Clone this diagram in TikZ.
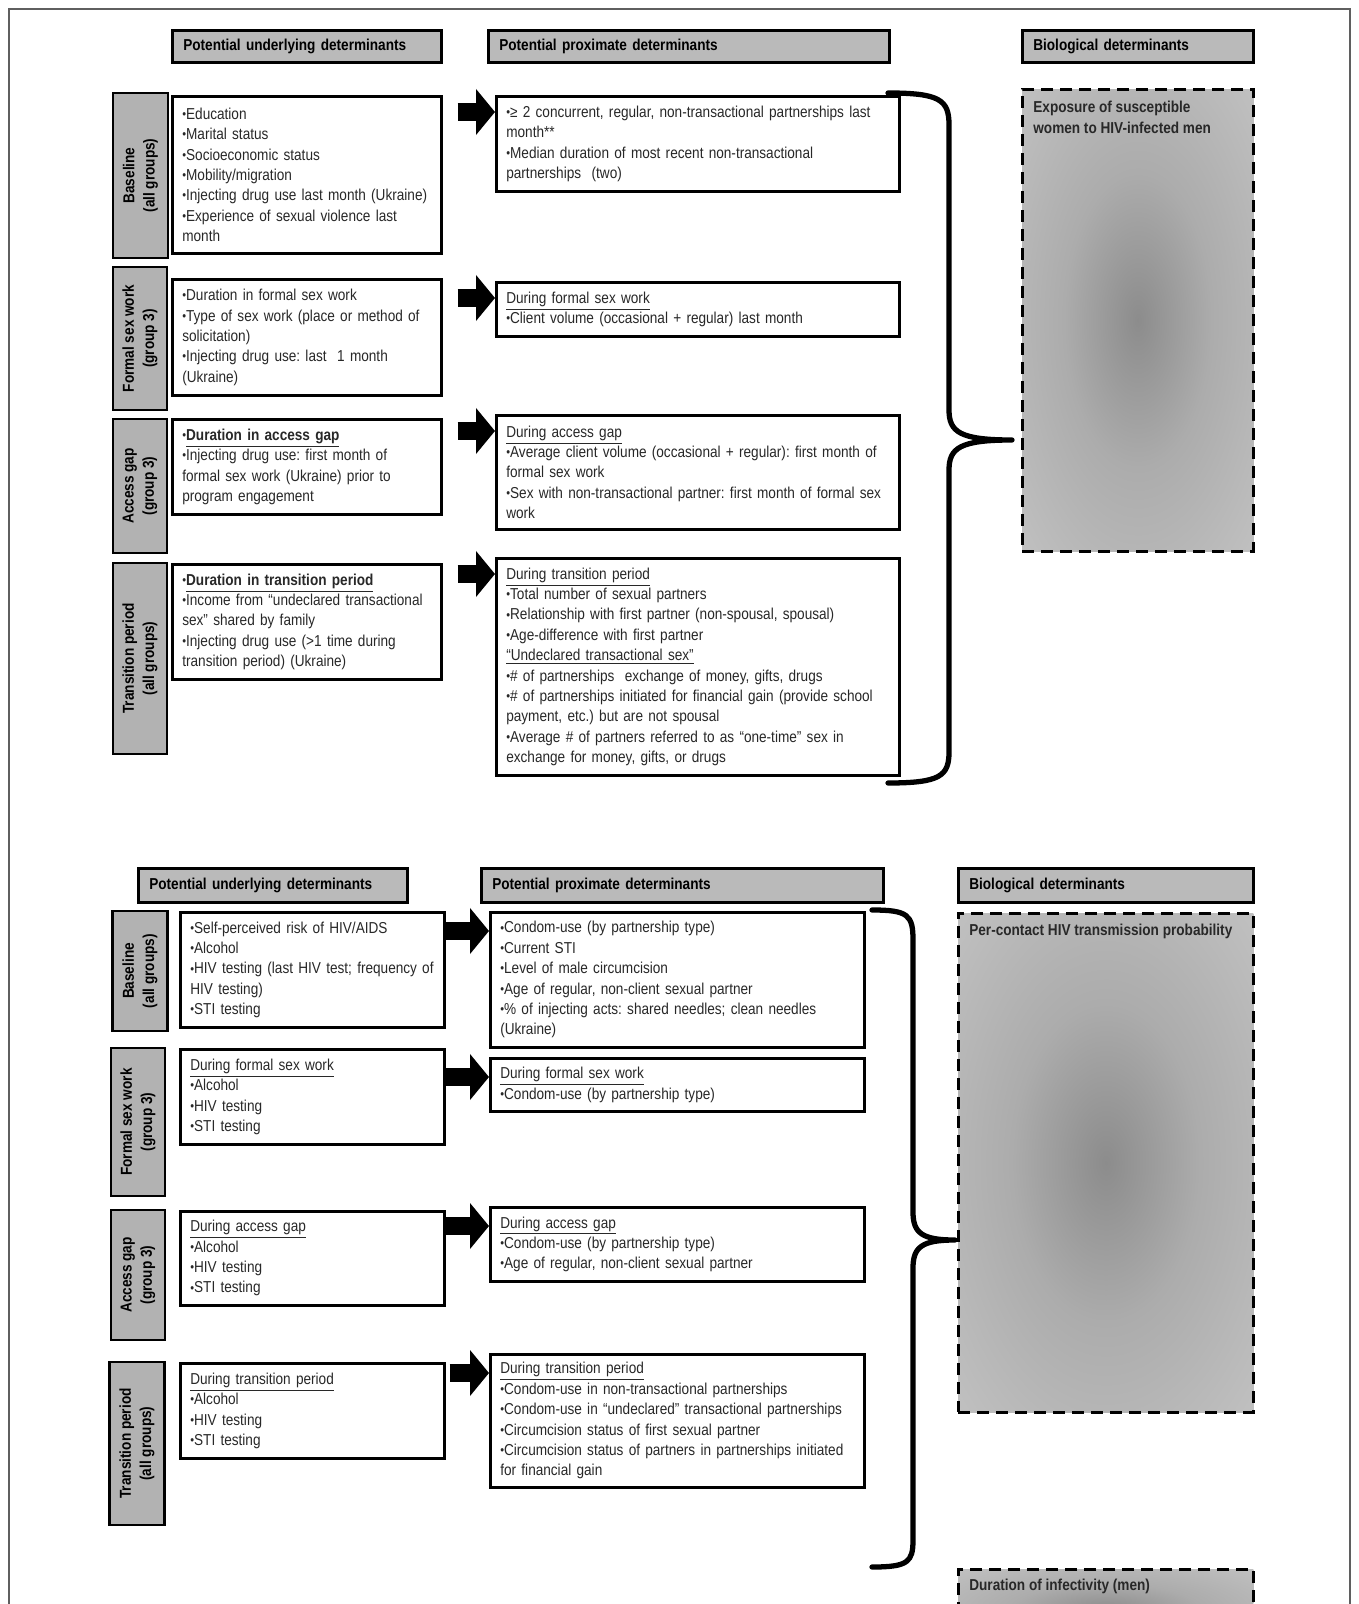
\documentclass[tikz,border=0pt]{standalone}
\usepackage{fontspec}
\setmainfont{Liberation Sans}[FakeStretch=0.86]
\usetikzlibrary{arrows.meta,positioning,calc}

\definecolor{headgray}{RGB}{186,186,186}
\definecolor{labgray}{RGB}{178,178,178}
\definecolor{framegray}{RGB}{95,95,95}
\definecolor{inkgray}{RGB}{40,40,40}
\definecolor{shadedark}{RGB}{140,140,140}
\definecolor{shademid}{RGB}{172,172,172}
\definecolor{shadelight}{RGB}{202,202,202}
\definecolor{shadeedge}{RGB}{210,210,210}
\pgfdeclareradialshading{bioshade}{\pgfpoint{0bp}{0bp}}{color(0bp)=(shadedark); color(16bp)=(shademid); color(45bp)=(shadelight); color(72bp)=(shadeedge)}

\newcommand{\diagfont}{\fontsize{9}{11.6}\selectfont\frenchspacing}
\newcommand{\bul}{\raisebox{0.1ex}{\scalebox{0.8}{\textbullet}}}

\begin{document}
\begin{tikzpicture}[
    x=0.02cm, y=-0.02cm,
    font=\diagfont,
    heading/.style={
        draw, line width=1.5pt, fill=headgray, anchor=north west,
        align=left, font=\diagfont\bfseries, inner xsep=0.22cm,
        text width=#1, minimum height=0.64cm
    },
    rowtag/.style={
        draw, line width=1.5pt, fill=labgray, rotate=90,
        align=center, font=\diagfont\bfseries, inner sep=0pt
    },
    factor/.style={
        draw, line width=1.5pt, fill=white, anchor=north west,
        align=left, text=inkgray, inner xsep=0.2cm, inner ysep=0.08cm,
        text width=#1
    },
    biobox/.style={
        draw, line width=1.5pt, dash pattern=on 0.24cm off 0.14cm,
        shade, shading=bioshade, anchor=north west
    },
    biotext/.style={font=\diagfont\bfseries, text=inkgray, align=left, inner sep=0pt},
    bigarrow/.style={line width=0.36cm, -{Triangle[length=0.38cm, width=0.9cm]}},
    bracket/.style={line width=3pt, line join=round, line cap=round}
]
\useasboundingbox (0,0) rectangle (1358,1604);
\clip (0,0) rectangle (1358,1604);
\draw[framegray, line width=1.2pt] (9,9) rectangle (1350,1700);

% Top panel: headings
\node[heading=4.94cm] (hu1) at (171,29) {Potential underlying determinants};
\node[heading=7.58cm] (hp1) at (487,29) {Potential proximate determinants};
\node[heading=4.18cm] (hb1) at (1021,29) {Biological determinants};

% Top panel: rows
\node[rowtag, minimum width=3.30cm, minimum height=1.10cm] (tag1) at (140.5,175.5) {Baseline\\(all groups)};
\node[factor=4.98cm, minimum height=3.14cm] (u1) at (171,95)
    {\bul Education\\\bul Marital status\\\bul Socioeconomic status\\\bul Mobility/migration\\\bul Injecting drug use last month (Ukraine)\\\bul Experience of sexual violence last\\month};
\node[factor=7.66cm, minimum height=1.90cm] (p1) at (495,95)
    {\bul{}≥ 2 concurrent, regular, non-transactional partnerships last\\month**\\\bul Median duration of most recent non-transactional\\partnerships~~(two)};

\node[rowtag, minimum width=2.86cm, minimum height=1.08cm] (tag2) at (140,338.5) {Formal sex work\\(group 3)};
\node[factor=4.98cm, minimum height=2.32cm] (u2) at (171,278)
    {\bul Duration in formal sex work\\\bul Type of sex work (place or method of\\solicitation)\\\bul Injecting drug use: last~~1 month\\(Ukraine)};
\node[factor=7.66cm, minimum height=1.08cm] (p2) at (495,281)
    {\underline{During formal sex work}\\\bul Client volume (occasional + regular) last month};

\node[rowtag, minimum width=2.68cm, minimum height=1.08cm] (tag3) at (140,486) {Access gap\\(group 3)};
\node[factor=4.98cm, minimum height=1.90cm] (u3) at (171,418)
    {\bul\textbf{\underline{Duration in access gap}}\\\bul Injecting drug use: first month of\\formal sex work (Ukraine) prior to\\program engagement};
\node[factor=7.66cm, minimum height=2.28cm] (p3) at (495,414)
    {\underline{During access gap}\\\bul Average client volume (occasional + regular): first month of\\formal sex work\\\bul Sex with non-transactional partner: first month of formal sex\\work};

\node[rowtag, minimum width=3.82cm, minimum height=1.08cm] (tag4) at (140,658.5) {Transition period\\(all groups)};
\node[factor=4.98cm, minimum height=2.30cm] (u4) at (171,563)
    {\bul\textbf{\underline{Duration in transition period}}\\\bul Income from “undeclared transactional\\sex” shared by family\\\bul Injecting drug use (>1 time during\\transition period) (Ukraine)};
\node[factor=7.66cm, minimum height=4.34cm] (p4) at (495,557)
    {\underline{During transition period}\\\bul Total number of sexual partners\\\bul Relationship with first partner (non-spousal, spousal)\\\bul Age-difference with first partner\\\underline{“Undeclared transactional sex”}\\\bul\#~of partnerships~~exchange of money, gifts, drugs\\\bul\#~of partnerships initiated for financial gain (provide school\\payment, etc.) but are not spousal\\\bul Average \# of partners referred to as “one-time” sex in\\exchange for money, gifts, or drugs};

\node[biobox, minimum width=4.62cm, minimum height=9.24cm] (bio1) at (1021,88) {};
\node[biotext, below right=0.26cm and 0.24cm of bio1.north west] (bio1txt) {Exposure of susceptible\\women to HIV-infected men};

% Top panel: arrows and brace
\draw[bigarrow] ($(u1.east |- p1.north west)+(15,17)$) -- ($(p1.north west)+(0,17)$);
\draw[bigarrow] ($(u2.east |- p2.north west)+(15,17)$) -- ($(p2.north west)+(0,17)$);
\draw[bigarrow] ($(u3.east |- p3.north west)+(15,17)$) -- ($(p3.north west)+(0,17)$);
\draw[bigarrow] ($(u4.east |- p4.north west)+(15,17)$) -- ($(p4.north west)+(0,17)$);
\draw[bracket] (888,93) .. controls (940,93) and (949,100) .. (949,125) -- (949,410)
    .. controls (949,432) and (960,440) .. (1012,440)
    .. controls (960,440) and (949,448) .. (949,470) -- (949,752)
    .. controls (949,776) and (940,783) .. (888,783);

% Bottom panel: headings
\node[heading=4.94cm, minimum height=0.68cm] (hu2) at (137,867) {Potential underlying determinants};
\node[heading=7.60cm, minimum height=0.68cm] (hp2) at (480,867) {Potential proximate determinants};
\node[heading=5.46cm, minimum height=0.68cm] (hb2) at (957,867) {Biological determinants};

% Bottom panel: rows
\node[rowtag, minimum width=2.40cm, minimum height=1.10cm] (tag5) at (140,971) {Baseline\\(all groups)};
\node[factor=4.88cm, minimum height=2.30cm] (u5) at (179,911)
    {\bul Self-perceived risk of HIV/AIDS\\\bul Alcohol\\\bul HIV testing (last HIV test; frequency of\\HIV testing)\\\bul STI testing};
\node[factor=7.08cm, minimum height=2.70cm] (p5) at (489,911)
    {\bul Condom-use (by partnership type)\\\bul Current STI\\\bul Level of male circumcision\\\bul Age of regular, non-client sexual partner\\\bul\%~of injecting acts: shared needles; clean needles\\(Ukraine)};

\node[rowtag, minimum width=2.96cm, minimum height=1.08cm] (tag6) at (138,1122) {Formal sex work\\(group 3)};
\node[factor=4.88cm, minimum height=1.90cm] (u6) at (179,1048)
    {\underline{During formal sex work}\\\bul Alcohol\\\bul HIV testing\\\bul STI testing};
\node[factor=7.08cm, minimum height=1.06cm] (p6) at (489,1057)
    {\underline{During formal sex work}\\\bul Condom-use (by partnership type)};

\node[rowtag, minimum width=2.60cm, minimum height=1.08cm] (tag7) at (138,1275) {Access gap\\(group 3)};
\node[factor=4.88cm, minimum height=1.88cm] (u7) at (179,1210)
    {\underline{During access gap}\\\bul Alcohol\\\bul HIV testing\\\bul STI testing};
\node[factor=7.08cm, minimum height=1.48cm] (p7) at (489,1206)
    {\underline{During access gap}\\\bul Condom-use (by partnership type)\\\bul Age of regular, non-client sexual partner};

\node[rowtag, minimum width=3.26cm, minimum height=1.10cm] (tag8) at (137,1443.5) {Transition period\\(all groups)};
\node[factor=4.88cm, minimum height=1.90cm] (u8) at (179,1362)
    {\underline{During transition period}\\\bul Alcohol\\\bul HIV testing\\\bul STI testing};
\node[factor=7.08cm, minimum height=2.66cm] (p8) at (489,1353)
    {\underline{During transition period}\\\bul Condom-use in non-transactional partnerships\\\bul Condom-use in “undeclared” transactional partnerships\\\bul Circumcision status of first sexual partner\\\bul Circumcision status of partners in partnerships initiated\\for financial gain};

\node[biobox, minimum width=5.90cm, minimum height=9.98cm] (bio2) at (957,912) {};
\node[biotext, below right=0.24cm and 0.24cm of bio2.north west] (bio2txt) {Per-contact HIV transmission probability};
\node[biobox, minimum width=5.90cm, minimum height=1.60cm] (bio3) at (957,1568) {};
\node[biotext, below right=0.22cm and 0.24cm of bio3.north west] (bio3txt) {Duration of infectivity (men)};

% Bottom panel: arrows and brace
\draw[bigarrow] ($(u5.east |- p5.north west)+(0,20)$) -- ($(p5.north west)+(0,20)$);
\draw[bigarrow] ($(u6.east |- p6.north west)+(0,20)$) -- ($(p6.north west)+(0,20)$);
\draw[bigarrow] ($(u7.east |- p7.north west)+(0,20)$) -- ($(p7.north west)+(0,20)$);
\draw[bigarrow] ($(u8.east |- p8.north west)+(4,20)$) -- ($(p8.north west)+(0,20)$);
\draw[bracket] (872,910) .. controls (908,910) and (913,915) .. (913,940) -- (913,1212)
    .. controls (913,1233) and (922,1240) .. (955,1240)
    .. controls (922,1240) and (913,1247) .. (913,1268) -- (913,1540)
    .. controls (913,1562) and (908,1567) .. (872,1567);

\end{tikzpicture}
\end{document}
